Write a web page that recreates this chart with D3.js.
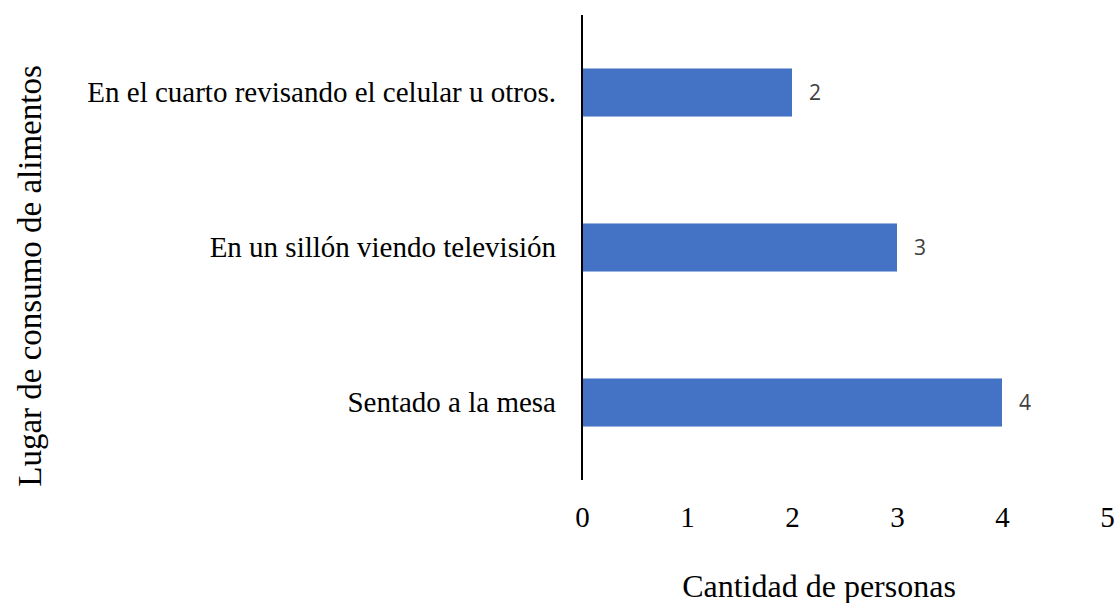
<!DOCTYPE html>
<html>
<head>
<meta charset="utf-8">
<script src="https://cdn.jsdelivr.net/npm/d3@7"></script>
<style>
  body { margin: 0; background: #fff; }
</style>
</head>
<body>
<div id="grafico"></div>
<script>
// datos
const lugares = [
    "En el cuarto revisando el celular u otros.",
    "En un sillón viendo televisión",
    "Sentado a la mesa"
];
const cantidades = [2, 3, 4];
const ticksX = [0, 1, 2, 3, 4, 5];

const width = 1118;
const height = 603;

const svg = d3.select("#grafico")
    .append("svg")
    .attr("width", width)
    .attr("height", height);

const data = lugares.map((l, i) => ({ lugar: l, valor: cantidades[i] }));

const xScale = d3.scaleLinear()
    .domain([0, 5])
    .range([582, 1107]);

const yScale = d3.scaleBand()
    .domain(lugares)
    .range([15, 480])
    .paddingInner(0.69)
    .paddingOuter(0.345);

// barras
svg.selectAll(".bar")
    .data(data)
    .enter()
    .append("rect")
    .attr("class", "bar")
    .attr("x", xScale(0))
    .attr("y", d => yScale(d.lugar))
    .attr("width", d => xScale(d.valor) - xScale(0))
    .attr("height", yScale.bandwidth())
    .attr("fill", "#4472C4");

// etiquetas de valor
svg.selectAll(".valor")
    .data(data)
    .enter()
    .append("text")
    .attr("x", d => xScale(d.valor) + 17)
    .attr("y", d => yScale(d.lugar) + yScale.bandwidth() / 2)
    .attr("dy", "0.35em")
    .attr("font-family", "Open Sans, sans-serif")
    .attr("font-size", 21)
    .attr("fill", "#404040")
    .text(d => d.valor);

// eje x (solo etiquetas)
const ejeX = svg.append("g")
    .attr("transform", "translate(0,517)")
    .call(d3.axisBottom(xScale).tickValues(ticksX).tickFormat(d3.format("d")).tickSize(0).tickPadding(0));
ejeX.select(".domain").remove();
ejeX.selectAll("text")
    .attr("dy", "0.35em")
    .attr("font-family", "Liberation Serif, Times New Roman, serif")
    .attr("font-size", 29)
    .attr("fill", "#000");

// eje y
const ejeY = svg.append("g")
    .attr("transform", "translate(582,0)")
    .call(d3.axisLeft(yScale).tickSize(0).tickPadding(26));
ejeY.select(".domain")
    .attr("d", "M0,15V480")
    .attr("stroke", "#000")
    .attr("stroke-width", 2);
ejeY.selectAll("text")
    .attr("font-family", "Liberation Serif, Times New Roman, serif")
    .attr("font-size", 29)
    .attr("fill", "#000");

// títulos
svg.append("text")
    .attr("x", 819)
    .attr("y", 597)
    .attr("text-anchor", "middle")
    .attr("font-family", "Liberation Serif, Times New Roman, serif")
    .attr("font-size", 32)
    .text("Cantidad de personas");

svg.append("text")
    .attr("transform", "translate(41,276) rotate(-90)")
    .attr("text-anchor", "middle")
    .attr("font-family", "Liberation Serif, Times New Roman, serif")
    .attr("font-size", 33)
    .text("Lugar de consumo de alimentos");
</script>
</body>
</html>
